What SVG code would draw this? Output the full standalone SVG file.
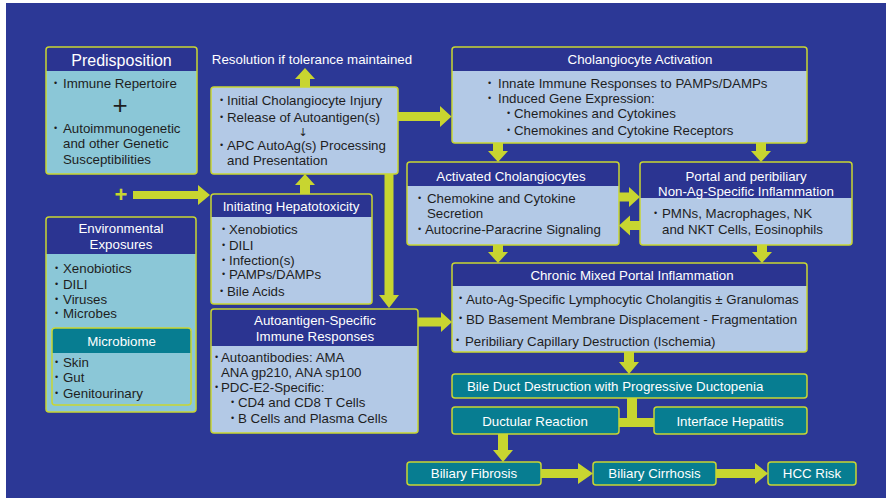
<svg xmlns="http://www.w3.org/2000/svg" width="886" height="498" viewBox="0 0 886 498">
  <style>
    text { font-family: "Liberation Sans", Arial, sans-serif; font-size: 13.3px; fill: #1e1e1e; }
    .w { fill: #ffffff; }
    .c { text-anchor: middle; }
    .b { font-size: 9px; }
    .body { fill: #b3c9e6; }
    .teal { fill: #8bc7d7; }
    .hdr { fill: #2b3491; }
    .thdr { fill: #077d91; }
    .frame { fill: none; stroke: #c9d632; stroke-width: 1.5; }
    .tbox { fill: #077d91; stroke: #c9d632; stroke-width: 1.5; }
    .arr { fill: #c8d530; }
  </style>

  <rect x="0" y="0" width="886" height="498" fill="#ffffff"/>
  <rect x="6" y="3" width="880" height="495" fill="#2c3896"/>

  <!-- connectors -->
  <g id="connectors" class="arr">
    <!-- up to resolution -->
    <polygon points="305,68 315,79 310,79 310,87 300,87 300,79 295,79"/>
    <!-- initiating hepatotoxicity up to initial injury -->
    <polygon points="305,174 315,185 310,185 310,194 300,194 300,185 295,185"/>
    <!-- initial injury down to autoantigen-specific responses -->
    <polygon points="384.5,174 393.5,174 393.5,295 399,295 389,308 379,295 384.5,295"/>
    <!-- initial injury to cholangiocyte activation -->
    <polygon points="398,112 440,112 440,106 451.5,116.5 440,127 440,121 398,121"/>
    <!-- environmental plus arrow -->
    <polygon points="133,191 198,191 198,185 210,195 198,205 198,199 133,199"/>
    <!-- autoantigen responses to chronic inflammation -->
    <polygon points="418,317.5 441,317.5 441,312 452,322 441,332 441,326.5 418,326.5"/>
    <!-- activation down -->
    <polygon points="493,143 503,143 503,151 508,151 498,162 488,151 493,151"/>
    <polygon points="756,143 766,143 766,151 771,151 761,162 751,151 756,151"/>
    <!-- activated / portal exchange -->
    <polygon points="619,192.5 629,192.5 629,187 640,197 629,207 629,201.5 619,201.5"/>
    <polygon points="640,221 630,221 630,215.5 619,225.5 630,235.5 630,230 640,230"/>
    <!-- down to chronic -->
    <polygon points="493,245 503,245 503,252 508,252 498,263 488,252 493,252"/>
    <polygon points="757,245 767,245 767,252 772,252 762,263 752,252 757,252"/>
    <!-- chronic down to bile duct destruction -->
    <polygon points="624,352 634,352 634,362 639,362 629,374 619,362 624,362"/>
    <!-- bile duct destruction branching -->
    <polygon points="627,398 637,398 637,418 654,418 654,427 619,427 619,418 627,418"/>
    <!-- ductular reaction down to fibrosis -->
    <polygon points="498,434 508,434 508,450 513,450 503,462 493,450 498,450"/>
    <!-- fibrosis to cirrhosis to HCC -->
    <polygon points="541,469 578,469 578,463 593,473.5 578,484 578,478 541,478"/>
    <polygon points="716,469 755,469 755,463 768,473.5 755,484 755,478 716,478"/>
  </g>

  <!-- plus sign between predisposition and exposures -->
  <text x="121" y="202" class="c" style="font-size:22px;font-weight:bold;fill:#c8d530">+</text>

  <!-- Predisposition -->
  <g id="predisposition">
    <rect x="46" y="47" width="151" height="127" rx="3" class="teal"/>
    <path d="M46,71 V50 Q46,47 49,47 H194 Q197,47 197,50 V71 Z" class="hdr"/>
    <rect x="46" y="47" width="151" height="127" rx="3" class="frame"/>
    <text x="121.5" y="65.5" class="w c" style="font-size:16px">Predisposition</text>
    <text x="54" y="86" class="b">•</text><text x="63" y="87.5">Immune Repertoire</text>
    <text x="120" y="114" class="c" style="font-size:26px">+</text>
    <text x="54" y="131" class="b">•</text><text x="63" y="132.5">Autoimmunogenetic</text>
    <text x="63" y="147.5">and other Genetic</text>
    <text x="63" y="163.5">Susceptibilities</text>
  </g>

  <!-- Environmental exposures -->
  <g id="environmental">
    <rect x="46" y="217" width="150" height="195" rx="3" class="teal"/>
    <path d="M46,254 V220 Q46,217 49,217 H193 Q196,217 196,220 V254 Z" class="hdr"/>
    <rect x="46" y="217" width="150" height="195" rx="3" class="frame"/>
    <text x="121" y="232.5" class="w c">Environmental</text>
    <text x="121" y="248.5" class="w c">Exposures</text>
    <text x="55" y="271" class="b">•</text><text x="63" y="272.5">Xenobiotics</text>
    <text x="55" y="287" class="b">•</text><text x="63" y="288.5">DILI</text>
    <text x="55" y="302" class="b">•</text><text x="63" y="303.5">Viruses</text>
    <text x="55" y="316" class="b">•</text><text x="63" y="317.5">Microbes</text>
  </g>

  <!-- Microbiome -->
  <g id="microbiome">
    <rect x="52" y="328" width="139" height="77" rx="3" class="teal"/>
    <path d="M52,353 V331 Q52,328 55,328 H188 Q191,328 191,331 V353 Z" class="thdr"/>
    <rect x="52" y="328" width="139" height="77" rx="3" class="frame"/>
    <text x="121.5" y="345.5" class="w c">Microbiome</text>
    <text x="55" y="365" class="b">•</text><text x="63" y="366.5">Skin</text>
    <text x="55" y="380" class="b">•</text><text x="63" y="381.5">Gut</text>
    <text x="55" y="396" class="b">•</text><text x="63" y="397.5">Genitourinary</text>
  </g>

  <!-- Resolution -->
  <g id="resolution">
    <text x="312" y="63.5" class="w c">Resolution if tolerance maintained</text>
  </g>

  <!-- Initial injury -->
  <g id="initial-injury">
    <rect x="211" y="87" width="187" height="87" rx="3" class="body"/>
    <rect x="211" y="87" width="187" height="87" rx="3" class="frame"/>
    <text x="220" y="103" class="b">•</text><text x="227" y="104.5">Initial Cholangiocyte Injury</text>
    <text x="220" y="120" class="b">•</text><text x="227" y="121.5">Release of Autoantigen(s)</text>
    <text x="303" y="135.5" class="c" style="font-family:'DejaVu Sans',sans-serif;font-size:11px">↓</text>
    <text x="220" y="148" class="b">•</text><text x="227" y="149.5">APC AutoAg(s) Processing</text>
    <text x="227" y="164.5">and Presentation</text>
  </g>

  <!-- Initiating hepatotoxicity -->
  <g id="initiating-hepatotoxicity">
    <rect x="211" y="194" width="161" height="110" rx="3" class="body"/>
    <path d="M211,217 V197 Q211,194 214,194 H369 Q372,194 372,197 V217 Z" class="hdr"/>
    <rect x="211" y="194" width="161" height="110" rx="3" class="frame"/>
    <text x="291" y="210.5" class="w c">Initiating Hepatotoxicity</text>
    <text x="222" y="232" class="b">•</text><text x="229" y="233.5">Xenobiotics</text>
    <text x="222" y="248" class="b">•</text><text x="229" y="249.5">DILI</text>
    <text x="222" y="263" class="b">•</text><text x="229" y="264.5">Infection(s)</text>
    <text x="222" y="277" class="b">•</text><text x="229" y="278.5">PAMPs/DAMPs</text>
    <text x="220" y="294" class="b">•</text><text x="227" y="295.5">Bile Acids</text>
  </g>

  <!-- Autoantigen-specific responses -->
  <g id="autoantigen-responses">
    <rect x="211" y="309" width="207" height="124" rx="3" class="body"/>
    <path d="M211,346 V312 Q211,309 214,309 H415 Q418,309 418,312 V346 Z" class="hdr"/>
    <rect x="211" y="309" width="207" height="124" rx="3" class="frame"/>
    <text x="315" y="324.5" class="w c">Autoantigen-Specific</text>
    <text x="315" y="340.5" class="w c">Immune Responses</text>
    <text x="215" y="360" class="b">•</text><text x="221" y="361.5">Autoantibodies: AMA</text>
    <text x="221" y="376.5">ANA gp210, ANA sp100</text>
    <text x="215" y="390" class="b">•</text><text x="221" y="391.5">PDC-E2-Specific:</text>
    <text x="231" y="405" class="b">•</text><text x="238" y="406.5">CD4 and CD8 T Cells</text>
    <text x="231" y="421" class="b">•</text><text x="238" y="422.5">B Cells and Plasma Cells</text>
  </g>

  <!-- Cholangiocyte activation -->
  <g id="cholangiocyte-activation">
    <rect x="452" y="47" width="355" height="96" rx="3" class="body"/>
    <path d="M452,71 V50 Q452,47 455,47 H804 Q807,47 807,50 V71 Z" class="hdr"/>
    <rect x="452" y="47" width="355" height="96" rx="3" class="frame"/>
    <text x="640" y="63.5" class="w c">Cholangiocyte Activation</text>
    <text x="488" y="86" class="b">•</text><text x="498" y="87.5">Innate Immune Responses to PAMPs/DAMPs</text>
    <text x="488" y="101" class="b">•</text><text x="498" y="102.5">Induced Gene Expression:</text>
    <text x="507" y="116" class="b">•</text><text x="514" y="117.5">Chemokines and Cytokines</text>
    <text x="507" y="133" class="b">•</text><text x="514" y="134.5">Chemokines and Cytokine Receptors</text>
  </g>

  <!-- Activated cholangiocytes -->
  <g id="activated-cholangiocytes">
    <rect x="407" y="162" width="212" height="83" rx="3" class="body"/>
    <path d="M407,186 V165 Q407,162 410,162 H616 Q619,162 619,165 V186 Z" class="hdr"/>
    <rect x="407" y="162" width="212" height="83" rx="3" class="frame"/>
    <text x="511" y="180.5" class="w c">Activated Cholangiocytes</text>
    <text x="418" y="201" class="b">•</text><text x="427" y="202.5">Chemokine and Cytokine</text>
    <text x="427" y="217.5">Secretion</text>
    <text x="418" y="232" class="b">•</text><text x="425" y="233.5">Autocrine-Paracrine Signaling</text>
  </g>

  <!-- Portal and peribiliary inflammation -->
  <g id="portal-inflammation">
    <rect x="640" y="162" width="212" height="83" rx="3" class="body"/>
    <path d="M640,198 V165 Q640,162 643,162 H849 Q852,162 852,165 V198 Z" class="hdr"/>
    <rect x="640" y="162" width="212" height="83" rx="3" class="frame"/>
    <text x="746" y="180.5" class="w c">Portal and peribiliary</text>
    <text x="746" y="195.5" class="w c">Non-Ag-Specific Inflammation</text>
    <text x="654" y="216" class="b">•</text><text x="662" y="217.5">PMNs, Macrophages, NK</text>
    <text x="662" y="233.5">and NKT Cells, Eosinophils</text>
  </g>

  <!-- Chronic mixed portal inflammation -->
  <g id="chronic-inflammation">
    <rect x="452" y="263" width="355" height="89" rx="3" class="body"/>
    <path d="M452,286 V266 Q452,263 455,263 H804 Q807,263 807,266 V286 Z" class="hdr"/>
    <rect x="452" y="263" width="355" height="89" rx="3" class="frame"/>
    <text x="632" y="279.5" class="w c">Chronic Mixed Portal Inflammation</text>
    <text x="459" y="301" class="b">•</text><text x="466" y="303.5">Auto-Ag-Specific Lymphocytic Cholangitis ± Granulomas</text>
    <text x="459" y="321" class="b">•</text><text x="466" y="323.5">BD Basement Membrane Displacement - Fragmentation</text>
    <text x="456" y="343" class="b">•</text><text x="465" y="345.5">Peribiliary Capillary Destruction (Ischemia)</text>
  </g>

  <!-- Outcome boxes -->
  <g id="bile-duct-destruction">
    <rect x="452" y="374" width="355" height="24" rx="3" class="tbox"/>
    <text x="467" y="390.5" class="w">Bile Duct Destruction with Progressive Ductopenia</text>
  </g>
  <g id="ductular-reaction">
    <rect x="452" y="407" width="167" height="27" rx="3" class="tbox"/>
    <text x="535" y="425.5" class="w c">Ductular Reaction</text>
  </g>
  <g id="interface-hepatitis">
    <rect x="654" y="407" width="153" height="27" rx="3" class="tbox"/>
    <text x="730" y="425.5" class="w c">Interface Hepatitis</text>
  </g>
  <g id="biliary-fibrosis">
    <rect x="407" y="462" width="134" height="23" rx="3" class="tbox"/>
    <text x="474" y="478" class="w c">Biliary Fibrosis</text>
  </g>
  <g id="biliary-cirrhosis">
    <rect x="593" y="462" width="123" height="23" rx="3" class="tbox"/>
    <text x="654.5" y="478" class="w c">Biliary Cirrhosis</text>
  </g>
  <g id="hcc-risk">
    <rect x="768" y="462" width="88" height="23" rx="3" class="tbox"/>
    <text x="812" y="478" class="w c">HCC Risk</text>
  </g>
</svg>
